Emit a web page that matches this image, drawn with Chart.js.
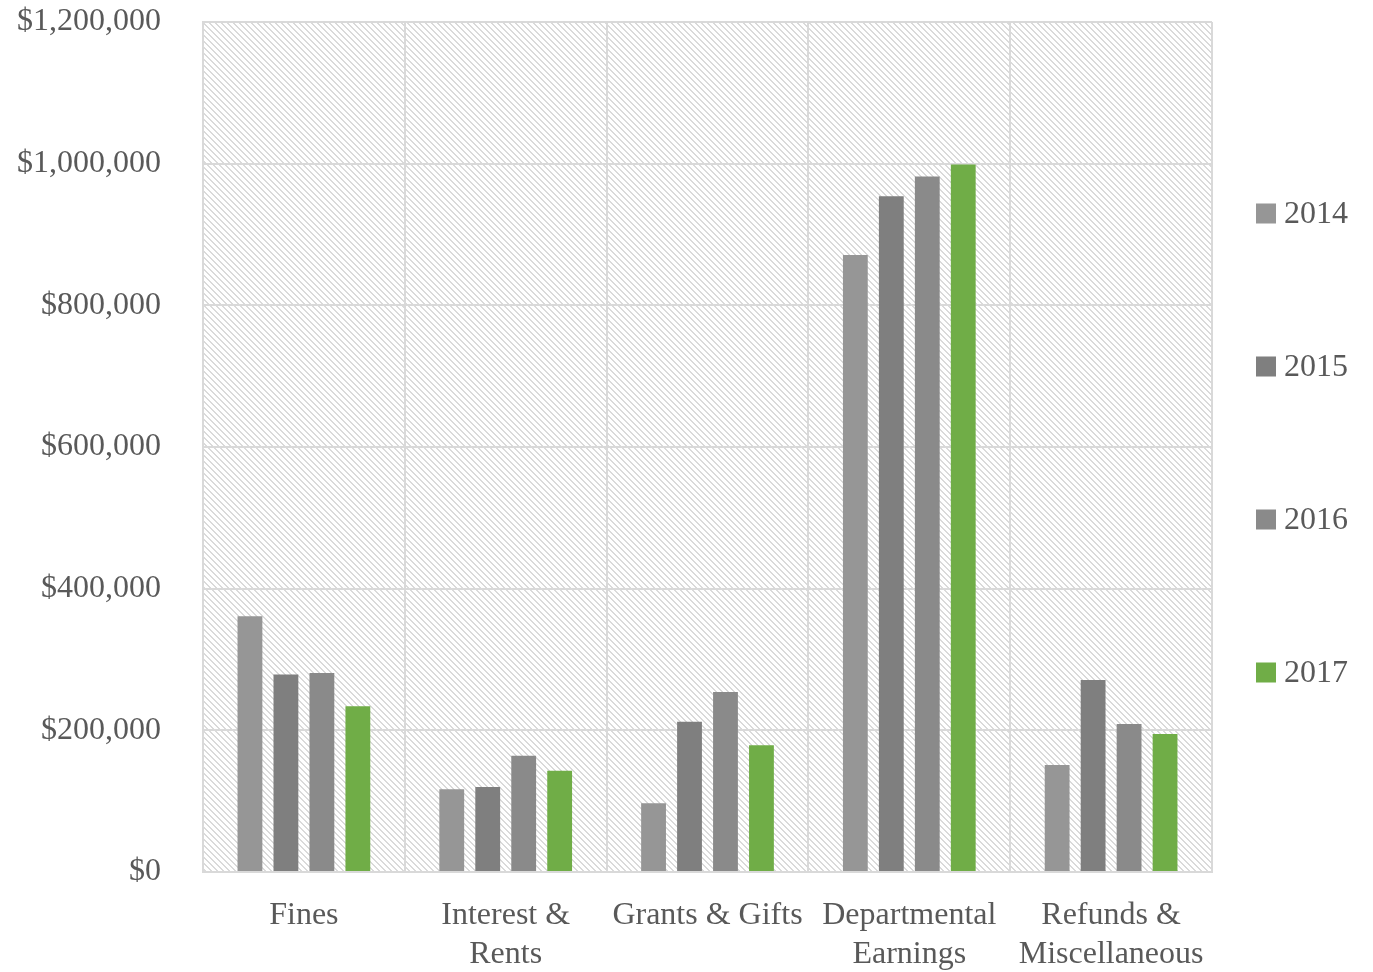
<!DOCTYPE html>
<html>
<head>
<meta charset="utf-8">
<script src="https://cdn.jsdelivr.net/npm/chart.js@4/dist/chart.umd.min.js"></script>
<style>
  html, body { margin: 0; padding: 0; background: #ffffff; }
  #wrap { width: 1373px; height: 972px; }
</style>
</head>
<body>
<div id="wrap"><canvas id="chart" width="1373" height="972"></canvas></div>
<script>
// Revenue by source, per year
const categories = [["Fines"], ["Interest &", "Rents"], ["Grants & Gifts"], ["Departmental", "Earnings"], ["Refunds &", "Miscellaneous"]];
const years = ["2014", "2015", "2016", "2017"];
const values2014 = [361000, 117000, 97000, 871000, 151000];
const values2015 = [279000, 120000, 212000, 954000, 271000];
const values2016 = [281000, 164000, 254000, 982000, 209000];
const values2017 = [234000, 143000, 179000, 999000, 195000];
const yTicks = [0, 200000, 400000, 600000, 800000, 1000000, 1200000];

const seriesColors = ["#969696", "#7f7f7f", "#8a8a8a", "#70ad47"];
const textColor = "#595959";
const gridColor = "#d9d9d9";
const fontFamily = "'Liberation Serif', 'DejaVu Serif', serif";
const fontSize = 32;

// Diagonal hatch fill for the plot background
function makeHatch() {
  const tile = document.createElement("canvas");
  tile.width = 6; tile.height = 6;
  const t = tile.getContext("2d");
  t.fillStyle = "#ffffff";
  t.fillRect(0, 0, 6, 6);
  t.fillStyle = "#dadada";
  for (let y = 0; y < 6; y++) {
    t.fillRect(y % 6, y, 2, 1);
    if (y + 2 > 6) t.fillRect(0, y, (y + 2) - 6, 1);
  }
  return t.createPattern(tile, "repeat");
}

const hatchBackground = {
  id: "hatchBackground",
  beforeDraw(chart) {
    const { ctx, chartArea: a } = chart;
    ctx.save();
    ctx.fillStyle = makeHatch();
    ctx.fillRect(a.left, a.top, a.right - a.left, a.bottom - a.top);
    ctx.restore();
  }
};

// Legend column on the right side
const sideLegend = {
  id: "sideLegend",
  afterDraw(chart) {
    const { ctx, chartArea: a } = chart;
    const pitch = 153;
    const n = chart.data.datasets.length;
    const mid = (a.top + a.bottom) / 2 - 4;
    const first = mid - pitch * (n - 1) / 2;
    ctx.save();
    ctx.font = fontSize + "px " + fontFamily;
    ctx.textBaseline = "middle";
    ctx.textAlign = "left";
    chart.data.datasets.forEach((ds, i) => {
      const y = first + i * pitch;
      ctx.fillStyle = ds.backgroundColor;
      ctx.fillRect(a.right + 44, y - 10, 20, 20);
      ctx.fillStyle = textColor;
      ctx.fillText(ds.label, a.right + 72, y + 1);
    });
    ctx.restore();
  }
};

const seriesValues = [values2014, values2015, values2016, values2017];

new Chart(document.getElementById("chart"), {
  type: "bar",
  data: {
    labels: categories,
    datasets: years.map((y, i) => ({
      label: y,
      data: seriesValues[i],
      backgroundColor: seriesColors[i],
      borderWidth: 0,
      barPercentage: 0.69,
      categoryPercentage: 0.713
    }))
  },
  options: {
    responsive: false,
    animation: false,
    layout: { padding: { top: 22, right: 161, bottom: 0, left: 0 } },
    plugins: {
      legend: { display: false },
      tooltip: { enabled: false }
    },
    scales: {
      x: {
        grid: { color: gridColor, lineWidth: 2, drawTicks: false, offset: true },
        border: { color: gridColor, width: 2 },
        ticks: {
          color: textColor,
          padding: 24,
          maxRotation: 0,
          autoSkip: false,
          font: { family: fontFamily, size: fontSize, lineHeight: 1.22 }
        },
        afterFit(scale) { scale.height = 100; scale.paddingLeft = 0; scale.paddingRight = 0; }
      },
      y: {
        min: 0,
        max: 1200000,
        afterBuildTicks(scale) { scale.ticks = yTicks.map(v => ({ value: v })); },
        grid: { color: gridColor, lineWidth: 2, drawTicks: false },
        border: { color: gridColor, width: 2 },
        ticks: {
          color: textColor,
          padding: 42,
          font: { family: fontFamily, size: fontSize },
          callback: v => "$" + Number(v).toLocaleString("en-US")
        },
        afterFit(scale) { scale.width = 203; scale.paddingTop = 0; scale.paddingBottom = 0; }
      }
    }
  },
  plugins: [hatchBackground, sideLegend]
});
</script>
</body>
</html>
